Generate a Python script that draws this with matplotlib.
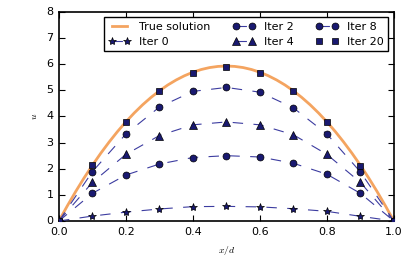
import matplotlib
matplotlib.use("Agg")
import matplotlib.pyplot as plt
import numpy as np

plt.style.use('classic')

x_nodes = [0.0, 0.1, 0.2, 0.3, 0.4, 0.5, 0.6, 0.7, 0.8, 0.9, 1.0]
iter0 = [0.0, 0.19, 0.34, 0.46, 0.55, 0.56, 0.54, 0.47, 0.37, 0.18, 0.0]
iter2 = [0.0, 1.06, 1.76, 2.18, 2.43, 2.50, 2.45, 2.21, 1.79, 1.06, 0.0]
iter4 = [0.0, 1.48, 2.55, 3.27, 3.68, 3.79, 3.68, 3.30, 2.55, 1.48, 0.0]
iter8 = [0.0, 1.89, 3.33, 4.36, 4.96, 5.11, 4.93, 4.33, 3.33, 1.88, 0.0]
iter20 = [0.0, 2.15, 3.80, 4.98, 5.67, 5.91, 5.66, 4.97, 3.78, 2.12, 0.0]

x_true = [0.0, 0.025, 0.05, 0.075, 0.1, 0.125, 0.15, 0.175, 0.2, 0.225,
          0.25, 0.275, 0.3, 0.325, 0.35, 0.375, 0.4, 0.425, 0.45, 0.475,
          0.5, 0.525, 0.55, 0.575, 0.6, 0.625, 0.65, 0.675, 0.7, 0.725,
          0.75, 0.775, 0.8, 0.825, 0.85, 0.875, 0.9, 0.925, 0.95, 0.975, 1.0]
u_true = [0.0, 0.578, 1.127, 1.646, 2.135, 2.594, 3.024, 3.425, 3.795, 4.136,
          4.448, 4.729, 4.981, 5.204, 5.396, 5.559, 5.693, 5.797, 5.871, 5.915,
          5.930, 5.915, 5.871, 5.797, 5.693, 5.559, 5.396, 5.204, 4.981, 4.729,
          4.448, 4.136, 3.795, 3.425, 3.024, 2.594, 2.135, 1.646, 1.127, 0.578, 0.0]

plt.rcParams['font.size'] = 8
plt.rcParams['mathtext.fontset'] = 'cm'

fig = plt.figure(figsize=(4.15, 2.65), dpi=100)
ax = fig.add_axes([0.142, 0.166, 0.807, 0.789])

ax.plot(x_true, u_true, color='#f4a460', lw=2.0, label='True solution', zorder=2)

mk = '#191970'
lc = '#3c3ca0'
series = [(iter0, '*', 'Iter 0', 6, '--'), (iter2, 'o', 'Iter 2', 5, '--'),
          (iter4, '^', 'Iter 4', 5.5, '--'), (iter8, 'o', 'Iter 8', 5, '--'),
          (iter20, 's', 'Iter 20', 5, 'none')]
for vals, m, lab, ms, ls in series:
    if ls == '--':
        ax.plot(x_nodes, vals, linestyle='--', dashes=(7.5, 7.5), color=lc, lw=0.8,
                marker=m, markersize=ms, markerfacecolor=mk, markeredgecolor='black',
                markeredgewidth=0.5, label=lab, zorder=3)
    else:
        ax.plot(x_nodes, vals, linestyle='none', color=lc, lw=0.8,
                marker=m, markersize=ms, markerfacecolor=mk, markeredgecolor='black',
                markeredgewidth=0.5, label=lab, zorder=3)

ax.set_xlim(0, 1)
ax.set_ylim(0, 8)
ax.set_xticks([0.0, 0.2, 0.4, 0.6, 0.8, 1.0])
ax.set_yticks(range(0, 9))
ax.tick_params(labelsize=8, length=4, width=0.8, direction='in', top=True, right=True)
for s in ax.spines.values():
    s.set_linewidth(1.2)
ax.set_xlabel(r'$x/d$', fontsize=7)
ax.set_ylabel(r'$u$', fontsize=7)

leg = ax.legend(ncol=3, loc='upper right', fontsize=8, numpoints=2,
                handlelength=2.0, columnspacing=2.0, borderaxespad=0.5,
                handletextpad=0.8, labelspacing=0.45, frameon=True, fancybox=False)
leg.get_frame().set_edgecolor('black')
leg.get_frame().set_linewidth(1.0)

fig.savefig('out.png', dpi=100)
